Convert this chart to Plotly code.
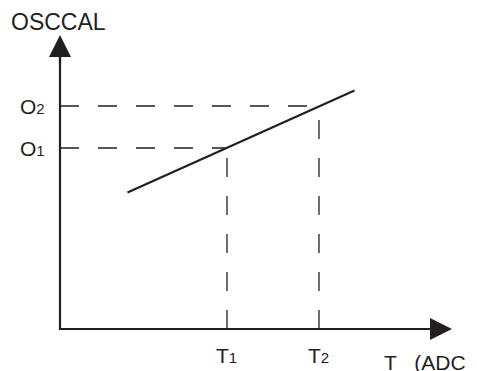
import plotly.graph_objects as go

# Data (arbitrary units along each axis)
t_points = [167, 259]          # T1, T2
o_points = [181, 223]          # O1, O2
t_labels = ["T", "T"]
t_subs = ["1", "2"]
o_labels = ["O", "O"]
o_subs = ["1", "2"]
line_t = [67.5, 294.5]         # OSCCAL vs T line
line_o = [136.5, 238.5]
x_axis_end = 392
y_axis_end = 294
y_title = "OSCCAL"
x_title = "T&nbsp;&nbsp;&nbsp;(ADC"

INK = "#231f20"
FONT = "Liberation Sans, Arial, sans-serif"

fig = go.Figure()

# axes (L shape)
fig.add_trace(go.Scatter(x=[0, 0, x_axis_end - 15], y=[y_axis_end - 15, 0, 0],
                         mode="lines", line=dict(color=INK, width=2.2),
                         hoverinfo="skip", showlegend=False))

# dashed guides
for t, o in zip(t_points, o_points):
    fig.add_trace(go.Scatter(x=[0, t], y=[o, o], mode="lines",
                             line=dict(color=INK, width=1.3, dash="19px,19px"),
                             hoverinfo="skip", showlegend=False))
    fig.add_trace(go.Scatter(x=[t, t], y=[0, o], mode="lines",
                             line=dict(color=INK, width=1.3, dash="19px,19px"),
                             hoverinfo="skip", showlegend=False))

# main line
fig.add_trace(go.Scatter(x=line_t, y=line_o, mode="lines",
                         line=dict(color=INK, width=2.2),
                         hoverinfo="skip", showlegend=False))

ann = []
# arrowheads
ann.append(dict(x=0, y=y_axis_end, ax=0, ay=y_axis_end - 30, xref="x", yref="y",
                axref="x", ayref="y", text="", showarrow=True, arrowhead=2,
                arrowsize=2, arrowwidth=2.2, arrowcolor=INK, standoff=0))
ann.append(dict(x=x_axis_end, y=0, ax=x_axis_end - 30, ay=0, xref="x", yref="y",
                axref="x", ayref="y", text="", showarrow=True, arrowhead=2,
                arrowsize=2, arrowwidth=2.2, arrowcolor=INK, standoff=0))

font = dict(family=FONT, size=21, color=INK)
sub = "<span style='font-size:15px'>%s</span>"

ann.append(dict(x=-51, y=307, xref="x", yref="y", text=y_title, showarrow=False,
                xanchor="left", yanchor="middle", font=dict(family=FONT, size=23, color=INK)))
for o, lab, s in zip(o_points, o_labels, o_subs):
    ann.append(dict(x=-13, y=o, xref="x", yref="y", text=lab + sub % s,
                    showarrow=False, xanchor="right", yanchor="middle", font=font))
for t, lab, s in zip(t_points, t_labels, t_subs):
    ann.append(dict(x=t - 1, y=-26, xref="x", yref="y", text=lab + sub % s,
                    showarrow=False, xanchor="center", yanchor="middle", font=font))
ann.append(dict(x=322, y=-33, xref="x", yref="y", text=x_title, showarrow=False,
                xanchor="left", yanchor="middle", font=font))

# page body has an 8px margin; size and ranges compensate for it
fig.update_layout(
    width=469, height=363,
    margin=dict(l=0, r=0, t=0, b=0),
    paper_bgcolor="white", plot_bgcolor="white",
    xaxis=dict(range=[-52, 417], visible=False, fixedrange=True),
    yaxis=dict(range=[-42, 321], visible=False, fixedrange=True),
    annotations=ann,
    showlegend=False,
)

fig.write_html("out.html")
